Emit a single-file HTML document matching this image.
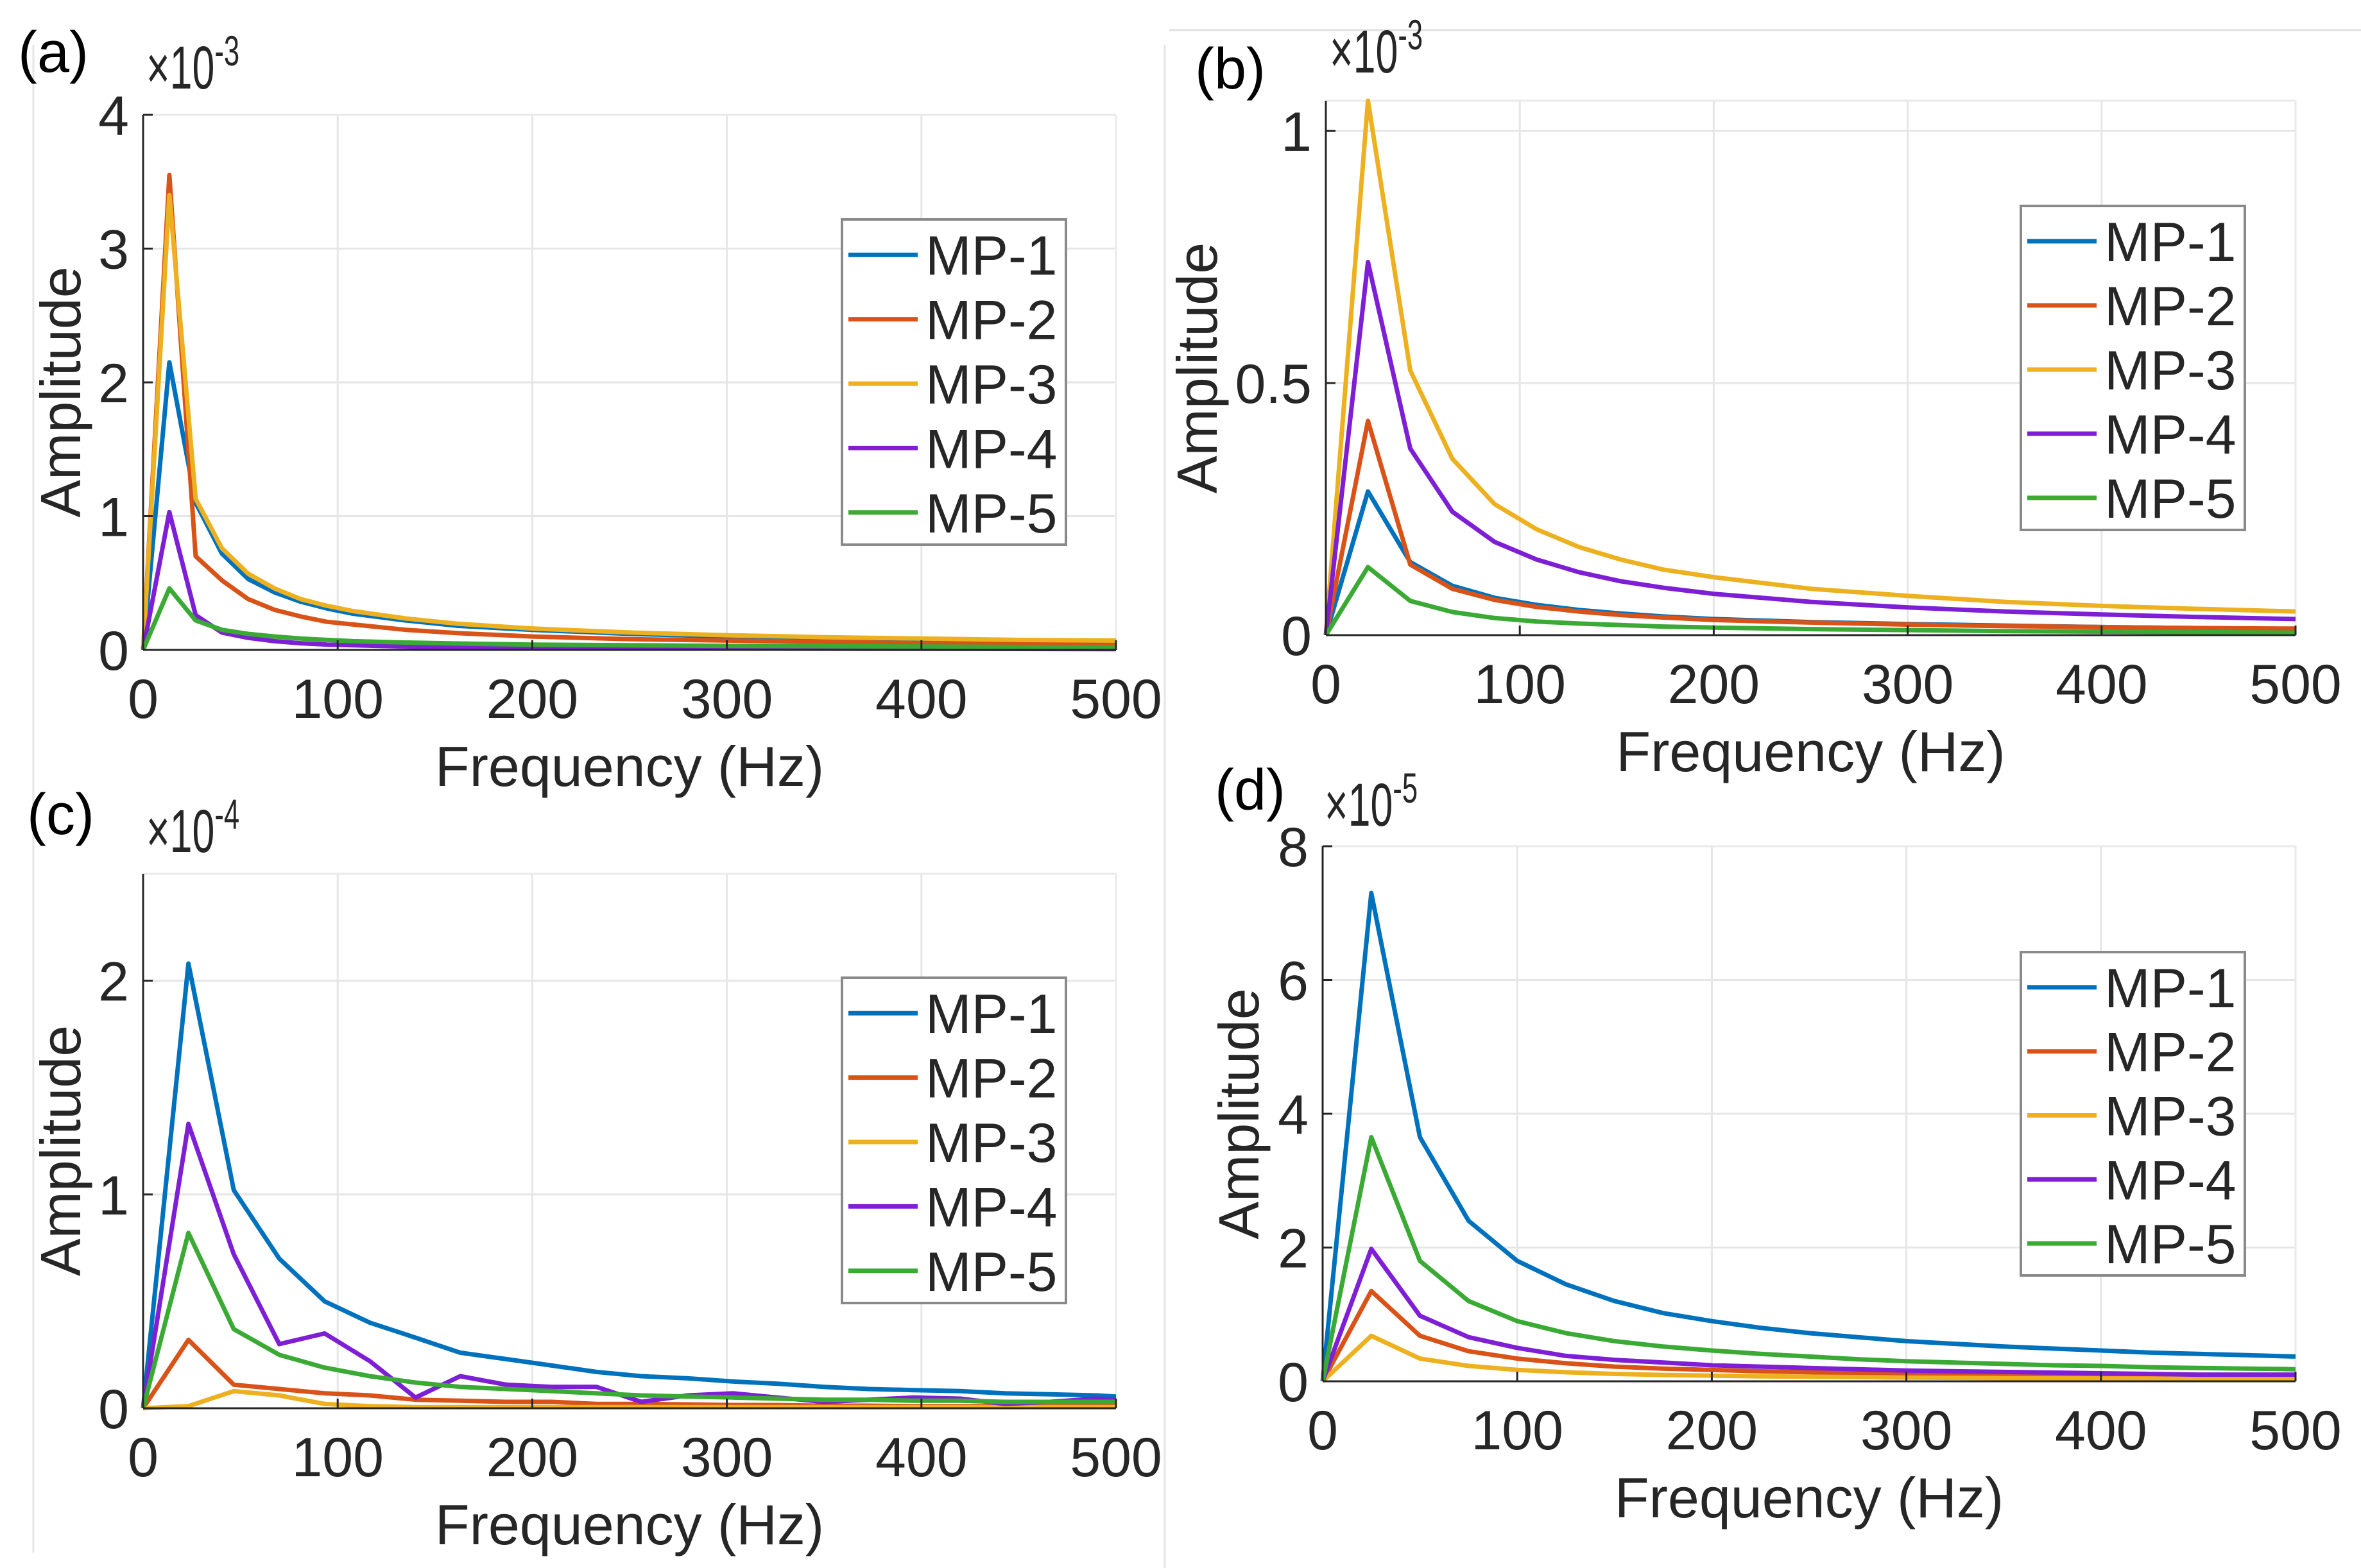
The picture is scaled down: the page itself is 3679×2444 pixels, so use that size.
<!DOCTYPE html>
<html><head><meta charset="utf-8"><style>
html,body{margin:0;padding:0;background:#fff;}
svg{display:block;font-family:"Liberation Sans",Arial,sans-serif;}
</style></head><body>
<svg id="fig" width="3679" height="2444" viewBox="0 0 3679 2444" xmlns="http://www.w3.org/2000/svg">
<rect x="0" y="0" width="3679" height="2444" fill="#fff"/>
<line x1="1822" y1="47" x2="3679" y2="47" stroke="#e0e0e0" stroke-width="3"/>
<line x1="1815" y1="70" x2="1815" y2="2444" stroke="#e6e6e6" stroke-width="3"/>
<line x1="52" y1="70" x2="52" y2="2420" stroke="#e6e6e6" stroke-width="3"/>
</svg>
<script>
const colors=["#0072BD","#D95319","#EDB120","#7E1FD6","#3AAA35"];
const seriesNames=["MP-1","MP-2","MP-3","MP-4","MP-5"];
const xTicks=[0,100,200,300,400,500];

// Panel (a) x1e-3
const freqA=[0,13.5,27,40.5,54,67.5,81,94.5,108,135,162,200,250,300,350,400,450,500];
const a1=[0,2.15,1.1,0.72,0.53,0.43,0.36,0.31,0.27,0.22,0.18,0.15,0.12,0.1,0.085,0.075,0.065,0.06];
const a2=[0,3.55,0.7,0.52,0.38,0.3,0.25,0.21,0.19,0.15,0.125,0.1,0.08,0.07,0.06,0.05,0.045,0.04];
const a3=[0,3.4,1.13,0.76,0.57,0.46,0.38,0.33,0.29,0.235,0.195,0.16,0.13,0.11,0.095,0.085,0.075,0.07];
const a4=[0,1.03,0.26,0.13,0.09,0.065,0.05,0.04,0.035,0.025,0.02,0.015,0.012,0.01,0.009,0.008,0.007,0.006];
const a5=[0,0.46,0.22,0.15,0.12,0.1,0.085,0.075,0.065,0.055,0.048,0.04,0.035,0.03,0.028,0.025,0.022,0.02];
const yTicksA=[0,1,2,3,4];

// Panel (b) x1e-3
const freqB=[0,21.7,43.5,65.2,87,108.7,130.4,152,174,200,250,300,350,400,450,500];
const b1=[0,0.285,0.145,0.098,0.074,0.06,0.05,0.043,0.037,0.032,0.026,0.022,0.019,0.016,0.014,0.012];
const b2=[0,0.425,0.14,0.092,0.07,0.056,0.047,0.04,0.035,0.03,0.025,0.021,0.018,0.016,0.014,0.013];
const b3=[0,1.06,0.525,0.35,0.26,0.21,0.175,0.15,0.13,0.115,0.092,0.078,0.066,0.058,0.052,0.047];
const b4=[0,0.74,0.37,0.245,0.185,0.15,0.125,0.107,0.094,0.082,0.066,0.055,0.047,0.041,0.036,0.032];
const b5=[0,0.135,0.068,0.046,0.034,0.027,0.023,0.02,0.017,0.015,0.012,0.01,0.008,0.007,0.006,0.005];
const yTicksB=[0,0.5,1];

// Panel (c) x1e-4
const freqC=[0,23.3,46.6,70,93.3,116.6,140,163,186.6,210,233,256,280,303,326,350,373,396,420,443,466,490,500];
const c1=[0,2.08,1.02,0.7,0.5,0.4,0.33,0.26,0.23,0.2,0.17,0.15,0.14,0.125,0.115,0.1,0.09,0.085,0.08,0.07,0.065,0.06,0.055];
const c2=[0,0.32,0.11,0.09,0.07,0.06,0.04,0.035,0.03,0.03,0.02,0.02,0.018,0.015,0.015,0.012,0.012,0.01,0.01,0.01,0.01,0.01,0.01];
const c3=[0,0.01,0.08,0.06,0.02,0.01,0.005,0.005,0.005,0.005,0.005,0.005,0.005,0.005,0.005,0.005,0.005,0.005,0.005,0.005,0.005,0.005,0.005];
const c4=[0,1.33,0.72,0.3,0.35,0.22,0.05,0.15,0.11,0.1,0.1,0.03,0.06,0.07,0.05,0.03,0.04,0.05,0.045,0.02,0.03,0.045,0.04];
const c5=[0,0.82,0.37,0.25,0.19,0.15,0.12,0.1,0.09,0.08,0.07,0.06,0.055,0.05,0.045,0.04,0.04,0.035,0.035,0.03,0.03,0.03,0.03];
const yTicksC=[0,1,2];

// Panel (d) x1e-5
const freqD=[0,25,50,75,100,125,150,175,200,225,250,275,300,325,350,375,400,425,450,475,500];
const d1=[0,7.3,3.65,2.4,1.8,1.45,1.2,1.02,0.9,0.8,0.72,0.66,0.6,0.56,0.52,0.49,0.46,0.43,0.41,0.39,0.37];
const d2=[0,1.35,0.68,0.45,0.34,0.27,0.22,0.19,0.17,0.15,0.135,0.12,0.11,0.1,0.095,0.09,0.085,0.08,0.075,0.07,0.068];
const d3=[0,0.68,0.34,0.23,0.17,0.135,0.11,0.095,0.085,0.075,0.068,0.062,0.056,0.052,0.048,0.045,0.042,0.04,0.038,0.036,0.034];
const d4=[0,1.98,0.98,0.66,0.5,0.38,0.32,0.28,0.24,0.22,0.2,0.18,0.16,0.15,0.14,0.13,0.12,0.11,0.1,0.1,0.1];
const d5=[0,3.65,1.8,1.2,0.9,0.72,0.6,0.52,0.46,0.41,0.37,0.33,0.3,0.28,0.26,0.24,0.23,0.21,0.2,0.19,0.18];
const yTicksD=[0,2,4,6,8];

const NS="http://www.w3.org/2000/svg";
const svg=document.getElementById('fig');
function mk(tag,attrs,parent,text){const e=document.createElementNS(NS,tag);for(const k in attrs)e.setAttribute(k,attrs[k]);if(text!==undefined)e.textContent=text;(parent||svg).appendChild(e);return e;}

const panels=[
 {id:'a',L:223,R:1739,T:179,B:1013,ymax:4,freq:freqA,series:[a1,a2,a3,a4,a5],yt:yTicksA,exp:'-3',lab:[28,112],expPos:[228,138],leg:[1312,342,1661,849],yoff:128},
 {id:'b',L:2066,R:3577,T:157,B:990,ymax:1.06,freq:freqB,series:[b1,b2,b3,b4,b5],yt:yTicksB,exp:'-3',lab:[1862,138],expPos:[2072,113],leg:[3149,321,3498,826],yoff:200},
 {id:'c',L:223,R:1739,T:1362,B:2195,ymax:2.5,freq:freqC,series:[c1,c2,c3,c4,c5],yt:yTicksC,exp:'-4',lab:[42,1300],expPos:[228,1328],leg:[1312,1524,1661,2031],yoff:128},
 {id:'d',L:2061,R:3577,T:1319,B:2153,ymax:8,freq:freqD,series:[d1,d2,d3,d4,d5],yt:yTicksD,exp:'-5',lab:[1893,1262],expPos:[2064,1287],leg:[3149,1484,3498,1988],yoff:130}
];

panels.forEach(p=>{
 const g=mk('g',{});
 
 
 const xs=v=>p.L+(v-0)/500*(p.R-p.L);
 const ys=v=>p.B-(v/p.ymax)*(p.B-p.T);
 xTicks.forEach(t=>{ if(t>0){const l=mk('line',{x1:xs(t),y1:p.T,x2:xs(t),y2:p.B,stroke:'#e6e6e6','stroke-width':3},g);
   
   }});
 p.yt.forEach(t=>{ if(t>0){const l=mk('line',{x1:p.L,y1:ys(t),x2:p.R,y2:ys(t),stroke:'#e6e6e6','stroke-width':3},g);
   
   }});
 const tl=mk('line',{x1:p.L,y1:p.T,x2:p.R,y2:p.T,stroke:'#eaeaea','stroke-width':3},g);
 
 
 const rl=mk('line',{x1:p.R,y1:p.T,x2:p.R,y2:p.B,stroke:'#eaeaea','stroke-width':3},g);
 
 
 p.series.forEach((s,i)=>{
   const pts=s.map((v,k)=>xs(p.freq[k]).toFixed(1)+','+ys(v).toFixed(1)).join(' ');
   const pl=mk('polyline',{points:pts,fill:'none',stroke:colors[i],'stroke-width':7,'stroke-linejoin':'round'},g);
   
   
 });
 const ax=mk('line',{x1:p.L,y1:p.B,x2:p.R,y2:p.B,stroke:'#262626','stroke-width':3},g);
 
 
 const ay=mk('line',{x1:p.L,y1:p.T,x2:p.L,y2:p.B,stroke:'#262626','stroke-width':3},g);
 
 
 xTicks.forEach(t=>{
   mk('line',{x1:xs(t),y1:p.B,x2:xs(t),y2:p.B-15,stroke:'#262626','stroke-width':3},g);
   const tx=mk('text',{x:xs(t),y:p.B+106,'font-size':86,'text-anchor':'middle',fill:'#262626'},g,String(t));
   
   
 });
 p.yt.forEach(t=>{
   mk('line',{x1:p.L,y1:ys(t),x2:p.L+15,y2:ys(t),stroke:'#262626','stroke-width':3},g);
   const tx=mk('text',{x:p.L-22,y:ys(t)+31,'font-size':86,'text-anchor':'end',fill:'#262626'},g,String(t));
   
   
 });
 const xl=mk('text',{x:(p.L+p.R)/2,y:p.B+212,'font-size':88,'text-anchor':'middle',fill:'#262626'},g,'Frequency (Hz)');
 
 
 const cy=(p.T+p.B)/2+(p.id==='a'||p.id==='c'?15:0);
 const yl=mk('text',{x:0,y:0,'font-size':88,'text-anchor':'middle',fill:'#262626',transform:`translate(${p.L-p.yoff+30},${cy}) rotate(-90)`},g,'Amplitude');
 
 
 const ex=mk('text',{x:0,y:0,'font-size':95,fill:'#262626',transform:`translate(${p.expPos[0]},${p.expPos[1]}) scale(0.66,1)`},g);
 
 
 mk('tspan',{},ex,'×10');
 mk('tspan',{'font-size':66,dy:-36},ex,p.exp);
 const pl=mk('text',{x:p.lab[0],y:p.lab[1],'font-size':90,fill:'#000'},g,'('+p.id+')');
 
 
 const [lx0,ly0,lx1,ly1]=p.leg;
 const lg=mk('g',{},g);
 
 
 mk('rect',{x:lx0,y:ly0,width:lx1-lx0,height:ly1-ly0,fill:'#fff',stroke:'#8a8a8a','stroke-width':4},lg);
 const step=(ly1-ly0)/5.05;
 seriesNames.forEach((n,i)=>{
   const cyy=ly0+step*0.55+step*i;
   const e=mk('g',{},lg);
   
   
   mk('line',{x1:lx0+10,y1:cyy,x2:lx0+118,y2:cyy,stroke:colors[i],'stroke-width':7},e);
   mk('text',{x:lx0+130,y:cyy+31,'font-size':86,fill:'#262626'},e,n);
 });
});
</script>
</body></html>
